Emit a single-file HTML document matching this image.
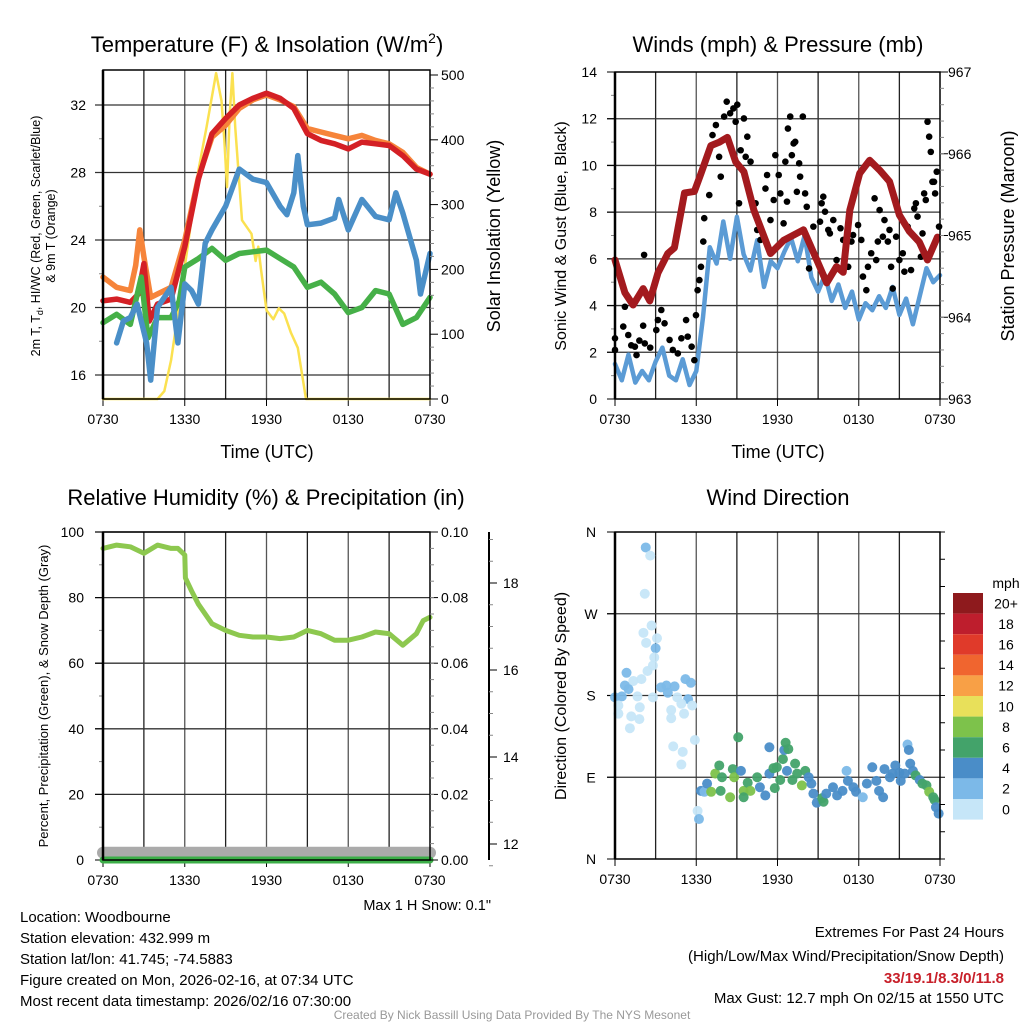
<!DOCTYPE html>
<html><head><meta charset="utf-8"><style>
body{margin:0;background:#fff;}
svg{display:block;font-family:"Liberation Sans",sans-serif;}
</style></head><body>
<svg id="s" width="1024" height="1024" viewBox="0 0 1024 1024" xmlns="http://www.w3.org/2000/svg"></svg>
<script>
// ---------- DATA ----------
const hourLabels=["0730","1330","1930","0130","0730"];
// Panel 1: temperatures (F)
const tRedH=[0,1,2,2.6,3,3.4,4,5,6,7,8,9,10,11,12,13,14,15,16,17,18,19,20,21,22,23,24];
const tRed=[20.4,20.5,20.3,20.8,22.6,19.2,20.2,20.5,23.6,27.6,30.3,31.2,32.0,32.4,32.7,32.4,31.8,30.3,29.9,29.7,29.4,29.8,29.7,29.6,29.0,28.2,27.9];
const tOrangeH=[0,1,2,2.4,2.7,3,3.5,4,5,6,7,8,9,10,11,12,13,14,15,16,17,18,19,20,21,22,23,24];
const tOrange=[21.8,21.2,21.0,22.5,24.6,23.0,20.6,20.8,21.2,24.0,27.7,30.1,30.8,31.8,32.3,32.6,32.3,31.9,30.6,30.4,30.2,30.0,30.2,29.9,29.7,29.2,28.3,27.9];
const tGreenH=[0,1,2,2.8,3.3,4,5,5.6,6,7,8,9,10,11,12,13,14,15,16,17,18,19,20,21,22,23,24];
const tGreen=[19.1,19.6,19.0,21.8,18.2,19.4,19.4,20.4,22.4,22.9,23.5,22.8,23.2,23.3,23.4,22.9,22.4,21.2,21.5,20.8,19.7,20.0,21.0,20.8,19.0,19.4,20.6];
const tBlueH=[1,1.5,2,2.5,3.2,3.5,4,5,5.5,6,6.5,7,7.5,8,9,10,11,12,13,13.5,14,14.3,14.7,15,16,17,17.3,18,19,20,21,21.5,22,23,23.3,24];
const tBlue=[17.9,19.2,19.4,20.2,17.9,15.7,20.0,21.2,17.9,21.4,21.0,20.2,23.8,24.6,26.0,28.2,27.6,27.4,26.0,25.5,26.8,29.0,26.0,24.9,25.0,25.3,26.4,24.6,26.4,25.4,25.2,26.8,25.6,22.8,20.8,23.2];
const insolH=[0,4.0,4.5,5.0,6.0,7.0,7.6,8.3,8.7,8.9,9.1,9.3,9.5,9.7,10.2,10.9,11.2,11.4,11.6,12.0,12.5,12.9,13.3,13.8,14.3,14.9,24];
const insol=[0,0,12,60,204,353,420,503,460,400,327,440,503,420,276,255,213,235,200,137,123,140,132,102,79,0,0];
// Panel 2: wind (mph) & pressure (mb)
const windH=[0,0.5,1,1.5,2,2.5,3,3.5,4,4.5,5,5.5,6,6.5,7,7.5,8,8.5,9,9.5,10,10.5,11,11.5,12,12.5,13,13.5,14,14.5,15,15.5,16,16.5,17,17.5,18,18.5,19,19.5,20,20.5,21,21.5,22,22.5,23,23.5,24];
const wind=[1.5,0.8,1.9,0.7,1.2,0.8,1.6,2.2,1.0,0.8,1.7,0.6,1.2,3.5,6.5,5.8,7.6,6.0,7.8,6.2,5.5,6.8,4.8,5.9,5.6,6.3,6.9,5.9,7.0,5.2,4.6,5.3,4.2,4.9,3.9,4.6,3.4,4.1,3.8,4.4,3.9,4.8,3.6,4.3,3.2,4.4,5.6,5.0,5.3];
const gustH=[0,0,0.61,0.73,0.98,1.2,1.47,1.59,1.8,2.08,2.15,2.2,2.6,3.05,3.17,3.42,3.66,4.03,4.27,4.64,4.9,5.25,5.37,5.66,5.86,5.98,6.1,6.23,6.35,6.52,6.59,6.96,7.2,7.45,7.69,7.81,8.06,8.25,8.5,8.74,8.91,9.03,9.28,9.16,9.52,9.65,9.77,10.01,10.38,10.5,10.74,11.11,11.23,11.48,11.72,11.84,12.09,12.21,12.45,12.58,12.7,12.77,12.94,13.06,13.19,13.31,13.43,13.6,13.67,13.87,14.04,14.16,14.33,14.65,15.14,15.26,15.38,15.51,15.75,15.87,16.12,16.36,16.65,16.85,17.22,17.46,17.58,17.95,18.19,18.31,18.56,18.68,18.92,19.17,19.29,19.41,19.54,19.78,19.9,20.15,20.27,20.39,20.51,20.76,21.0,21.25,21.37,21.61,21.86,22.1,22.22,22.34,22.59,22.71,22.83,22.95,23.08,23.2,23.32,23.44,23.56,23.64,23.76,23.93];
const gust=[2.6,2.1,3.1,3.95,2.74,2.3,2.24,1.88,2.5,3.14,6.17,2.38,2.2,2.95,3.38,3.81,3.24,2.53,2.1,1.95,2.6,3.38,2.67,2.24,1.66,3.59,4.66,5.09,5.66,6.74,7.74,8.73,11.3,11.73,10.37,9.52,12.09,12.73,12.23,12.44,11.87,12.6,10.65,8.38,12.01,10.37,11.23,10.16,8.38,7.24,6.81,9.01,9.59,7.66,8.52,10.44,9.59,8.8,7.52,10.16,8.45,11.58,12.09,10.44,10.94,11.01,8.87,10.09,9.52,12.09,8.8,8.23,5.59,7.38,7.59,8.38,8.66,8.02,7.24,7.09,7.66,5.95,7.31,6.81,5.66,6.74,7.02,7.45,6.81,5.24,4.66,5.66,6.24,8.59,5.95,6.74,8.09,6.95,7.66,6.74,7.24,5.66,4.73,6.95,5.95,6.24,5.45,7.38,5.52,8.16,8.38,7.81,6.09,7.09,8.8,8.52,11.87,11.23,10.58,9.3,9.3,8.8,9.73,7.38];
const presH=[0,0.73,1.34,2.08,2.57,3.17,3.9,4.39,5.13,5.86,6.35,7.08,7.69,8.3,8.91,9.52,10.26,11.48,12.45,13.92,14.9,15.63,16.36,16.85,17.34,18.07,18.8,19.54,20.27,21.0,21.74,22.47,23.08,23.81];
const pres=[964.70,964.30,964.15,964.35,964.20,964.54,964.78,964.85,965.52,965.54,965.76,966.10,966.14,966.20,965.90,965.78,965.31,964.78,964.94,965.07,964.70,964.42,964.62,964.55,965.31,965.76,965.92,965.80,965.66,965.25,965.05,964.92,964.70,964.98];
// Panel 3: RH (%), precip (in), snow depth
const rhH=[0,1,2,3,4,5,5.5,6,6.05,6.5,7,8,9,10,11,12,13,14,15,16,17,18,19,20,21,22,23,23.5,24];
const rh=[95,96,95.5,93.5,96,95,95,93,86,82,78,72,70,68.5,68,68,67.5,68,70,69,67,67,68,69.5,69,65.5,69,73,74];
const precipH=[0,24];
const precip=[0,0];
const snowH=[0,24];
const snow=[11.8,11.8];
// Panel 4: wind direction (deg) colored by speed (mph)
const dirH=[2.27,2.6,2.2,2.7,2.1,3.1,2.3,3.0,2.9,2.8,0.85,2.4,1.95,1.35,0.73,1.0,0,0.5,1.66,0.25,0.25,1.2,1.8,1.1,1.83,2.8,3.4,3.8,4.4,3.9,4.6,5.4,5.2,5.6,5.7,5.1,4.15,4.15,4.9,5.9,4.3,5.0,4.9,6.1,6.2,6.35,6.6,6.8,7.1,7.4,7.7,7.9,7.8,8.5,8.7,8.8,9.1,9.3,9.5,9.8,10.0,9.5,10.5,10.7,11.1,11.4,11.4,11.7,11.8,11.95,12.2,12.4,12.5,12.6,12.8,12.7,13.1,13.3,13.45,13.8,14.05,14.3,14.5,14.65,14.9,15.4,15.3,15.6,16.1,16.4,16.8,17.1,17.2,17.6,17.8,18.3,18.6,19.0,19.3,19.5,19.8,19.9,20.3,20.5,20.7,21.0,21.1,21.4,21.6,21.7,21.8,22.0,22.2,22.5,22.7,23.0,23.2,23.5,23.6,23.7,23.9];
const dirDeg=[343,334,292,257,249,243,238,232,222,213,205,207,198,196,191,187,178,179,179,169,160,157,154,144,167,178,189,191,190,183,178,176,198,194,169,160,164,155,171,131,124,118,104,53,44,75,74,83,74,94,103,90,75,68,99,90,134,97,75,84,75,68,90,79,70,94,123,100,78,101,87,110,120,128,121,97,87,105,94,81,97,90,83,72,62,63,67,72,79,70,75,97,86,79,74,68,83,101,86,75,68,99,90,94,103,95,86,94,126,120,105,97,92,87,83,81,74,68,65,57,50];
const dirSpd=[3,1,1,1,1,1,1,3,1,1,3,1,1,1,3,3,3,3,1,1,1,1,1,1,1,1,3,3,3,3,1,3,3,3,1,1,1,1,1,1,1,1,1,1,3,5,3,5,9,9,7,7,7,9,7,9,7,5,9,7,9,7,7,5,5,5,5,7,7,7,7,7,5,7,7,5,7,7,7,9,7,5,5,5,5,7,7,5,5,5,5,3,5,5,5,3,5,5,5,5,5,5,5,5,5,5,5,5,3,5,5,5,7,5,7,7,9,7,7,5,5];
const cbLabels=["20+","18","16","14","12","10","8","6","4","2","0"];
const cbColors=["#8e1a1d","#be1e2d","#e03a2a","#f0652f","#f8a046","#e8e05a","#7dc24b","#43a36a","#4a8dc8","#7cb9e8","#c6e6f8"];

// ---------- HELPERS ----------
const NS="http://www.w3.org/2000/svg";
const svg=document.getElementById('s');
function mk(tag,attrs,parent){const e=document.createElementNS(NS,tag);for(const k in attrs)e.setAttribute(k,attrs[k]);(parent||svg).appendChild(e);return e;}
function txt(x,y,s,size,anchor,extra){const e=mk('text',Object.assign({x:x,y:y,'font-size':size,'text-anchor':anchor||'middle',fill:'#000'},extra||{}));e.textContent=s;return e;}
function linear(d0,d1,r0,r1){return v=>r0+(v-d0)*(r1-r0)/(d1-d0);}
function pathD(xs,ys,fx,fy){return xs.map((h,i)=>(i?'L':'M')+fx(h).toFixed(1)+','+fy(ys[i]).toFixed(1)).join('');}
function frame(x0,x1,y0,y1,name){
  for(let k=1;k<8;k++){const gx=x0+(x1-x0)*k/8;const l=mk('line',{x1:gx,x2:gx,y1:y0,y2:y1,stroke:k%2?'#222':'#555','stroke-width':1.3});
  
  }
  for(let k=0;k<5;k++){const gx=x0+(x1-x0)*k/4;const t=txt(gx,0,hourLabels[k],14);t.setAttribute('y',y1+25);
  
  
  const tk=mk('line',{x1:gx,x2:gx,y1:y1,y2:y1+7,stroke:'#000','stroke-width':1});
  
  }
}
function border(x0,x1,y0,y1,name){const r=mk('rect',{x:x0,y:y0,width:x1-x0,height:y1-y0,fill:'none',stroke:'#000','stroke-width':1.5});


mk('line',{x1:x0,x2:x0,y1:y0,y2:y1,stroke:'#000','stroke-width':2.5});}
function hgrid(x0,x1,y,name){const l=mk('line',{x1:x0-8,x2:x1,y1:y,y2:y,stroke:'#333','stroke-width':1.3});

}
function line(xs,ys,fx,fy,color,w,name){const p=mk('path',{d:pathD(xs,ys,fx,fy),fill:'none',stroke:color,'stroke-width':w,'stroke-linejoin':'round','stroke-linecap':'round'});

return p;}
function rightTicks(x,vals,fy,minorVals,fmt,name,labX){
  vals.forEach(v=>{mk('line',{x1:x,x2:x+8,y1:fy(v),y2:fy(v),stroke:'#000'});const t=txt(labX,fy(v)+5,fmt(v),14,'start');
  
  });
  minorVals.forEach(v=>mk('line',{x1:x,x2:x+4,y1:fy(v),y2:fy(v),stroke:'#888'}));
}
function vtitle(x,y,s,size,name){const t=txt(x,y,s,size,'middle',{transform:'rotate(-90 '+x+' '+y+')'});

return t;}

// ---------- PANEL 1 ----------
(function(){
const x0=103,x1=430,y0=70,y1=399;
const fx=linear(0,24,x0,x1), fy=linear(16,32,375,105), fi=linear(0,500,399,75);
frame(x0,x1,y0,y1,'temp');
[16,20,24,28,32].forEach(v=>{hgrid(x0,x1,fy(v),'temp');const t=txt(86,fy(v)+5,String(v),14,'end');

});
[18,22,26,30].forEach(v=>mk('line',{x1:x0-4,x2:x0,y1:fy(v),y2:fy(v),stroke:'#888'}));
line(insolH,insol,fx,fi,'#fbe150',2.5,'insolation-line');
line(tOrangeH,tOrange,fx,fy,'#f6843a',5.5,'9m-temp-line');
line(tRedH,tRed,fx,fy,'#d42025',5.5,'2m-temp-line');
line(tGreenH,tGreen,fx,fy,'#46b048',5.5,'dewpoint-line');
line(tBlueH,tBlue,fx,fy,'#4a8fc8',5.5,'windchill-line');
border(x0,x1,y0,y1,'temp');
rightTicks(x1,[0,100,200,300,400,500],fi,[20,40,60,80,120,140,160,180,220,240,260,280,320,340,360,380,420,440,460,480],String,'insolation',441);
const tt=txt(267,52,'',22);tt.innerHTML='Temperature (F) &amp; Insolation (W/m<tspan font-size="14" dy="-9">2</tspan><tspan dy="9">)</tspan>';


const xt=txt(267,458,'Time (UTC)',18);


vtitle(500,236,'Solar Insolation (Yellow)',18,'insolation-axis-title');
const lt=txt(40,236,'',12.5,'middle',{transform:'rotate(-90 40 236)'});
lt.innerHTML='2m T, T<tspan font-size="9" dy="3">d</tspan><tspan dy="-3">, HI/WC (Red, Green, Scarlet/Blue)</tspan>';


vtitle(55,236,'& 9m T (Orange)',12.5,'temp-y-axis-title-line2');
})();

// ---------- PANEL 2 ----------
(function(){
const x0=615,x1=940,y0=72,y1=399;
const fx=linear(0,24,x0,x1), fy=linear(0,14,399,72), fp=linear(963,967,399,72);
frame(x0,x1,y0,y1,'wind');
[0,2,4,6,8,10,12,14].forEach(v=>{if(v>0&&v<14)hgrid(x0,x1,fy(v),'wind');mk('line',{x1:x0-8,x2:x0,y1:fy(v),y2:fy(v),stroke:'#000'});const t=txt(597,fy(v)+5,String(v),14,'end');

});
[1,3,5,7,9,11,13].forEach(v=>mk('line',{x1:x0-4,x2:x0,y1:fy(v),y2:fy(v),stroke:'#888'}));
line(windH,wind,fx,fy,'#5b9bd5',4.5,'sonic-wind-line');
gustH.forEach((h,i)=>{const c=mk('circle',{cx:fx(h),cy:fy(gust[i]),r:3.3,fill:'#000'});

});
line(presH,pres,fx,fp,'#a31a1e',7,'pressure-line');
border(x0,x1,y0,y1,'wind');
const mn=[];for(let v=963.2;v<967;v+=0.2)mn.push(v);
rightTicks(x1,[963,964,965,966,967],fp,mn,String,'pressure',948);
const tt=txt(778,52,'Winds (mph) & Pressure (mb)',22);


const xt=txt(778,458,'Time (UTC)',18);


vtitle(566,236,'Sonic Wind & Gust (Blue, Black)',16,'wind-y-axis-title');
vtitle(1014,236,'Station Pressure (Maroon)',18,'pressure-axis-title');
})();

// ---------- PANEL 3 ----------
(function(){
const x0=103,x1=430,y0=532,y1=860;
const fx=linear(0,24,x0,x1), fy=linear(0,100,860,532), fs=linear(12,18,844,583);
frame(x0,x1,y0,y1,'rh');
[0,20,40,60,80,100].forEach(v=>{if(v>0)hgrid(x0,x1,fy(v),'rh');mk('line',{x1:x0-8,x2:x0,y1:fy(v),y2:fy(v),stroke:'#000'});const t=txt(84,fy(v)+5,String(v),14,'end');

});
[10,30,50,70,90].forEach(v=>mk('line',{x1:x0-4,x2:x0,y1:fy(v),y2:fy(v),stroke:'#888'}));
line(snowH,snow,fx,fs,'#aaaaaa',12,'snow-depth-line');
line(precipH,precip.map(v=>v*1000),fx,fy,'#3cae48',7,'precipitation-line');
line(rhH,rh,fx,fy,'#8dc84f',5,'rh-line');
border(x0,x1,y0,y1,'rh');
const mn=[];for(let v=0.005;v<0.1;v+=0.005)mn.push(v*1000);
rightTicks(x1,[0,20,40,60,80,100],fy,mn,v=>(v/1000).toFixed(2),'precip',441);
const ax=mk('line',{x1:489,x2:489,y1:532,y2:860,stroke:'#000','stroke-width':2});


[12,14,16,18].forEach(v=>{mk('line',{x1:489,x2:497,y1:fs(v),y2:fs(v),stroke:'#000'});const t=txt(503,fs(v)+5,String(v),14,'start');

});
for(let v=11.5;v<19.5;v+=0.5){if(v%2)mk('line',{x1:489,x2:493,y1:fs(v),y2:fs(v),stroke:'#888'});}
const tt=txt(266,505,'Relative Humidity (%) & Precipitation (in)',22);


vtitle(48,696,'Percent, Precipitation (Green), & Snow Depth (Gray)',13,'rh-y-axis-title');
const sn=txt(491,910,'Max 1 H Snow: 0.1"',14.5,'end');


})();

// ---------- PANEL 4 ----------
(function(){
const x0=615,x1=940,y0=532,y1=859;
const fx=linear(0,24,x0,x1), fy=linear(0,360,859,532);
frame(x0,x1,y0,y1,'dir');
const dl=['N','E','S','W','N'];
[0,90,180,270,360].forEach((v,i)=>{if(v>0&&v<360)hgrid(x0,x1,fy(v),'dir');mk('line',{x1:x0-8,x2:x0,y1:fy(v),y2:fy(v),stroke:'#000'});const t=txt(591,fy(v)+5,dl[i],14,'middle');

});
dirH.forEach((h,i)=>{const idx=Math.max(0,Math.min(10,10-Math.floor(dirSpd[i]/2)));const c=mk('circle',{cx:fx(h),cy:fy(dirDeg[i]),r:5,fill:cbColors[idx],'fill-opacity':0.95});

});
border(x0,x1,y0,y1,'dir');
for(let v=0;v<=360;v+=30)mk('line',{x1:x1,x2:x1+5,y1:fy(v),y2:fy(v),stroke:'#000'});
const tt=txt(778,505,'Wind Direction',22);


vtitle(566,696,'Direction (Colored By Speed)',16,'dir-y-axis-title');
const mu=txt(1006,588,'mph',14);


const bh=20.6;
cbColors.forEach((c,i)=>{const r=mk('rect',{x:953,y:593+i*bh,width:30,height:bh,fill:c});


const t=txt(1006,593+i*bh+bh/2+5,cbLabels[i],14);

});
})();

// ---------- FOOTER TEXT ----------
const leftLines=['Location: Woodbourne','Station elevation: 432.999 m','Station lat/lon: 41.745; -74.5883','Figure created on Mon, 2026-02-16, at 07:34 UTC','Most recent data timestamp: 2026/02/16 07:30:00'];
leftLines.forEach((s,i)=>{const t=txt(20,922+i*21,s,15,'start');

});
const r1=txt(1004,937,'Extremes For Past 24 Hours',15,'end');


const r2=txt(1004,961,'(High/Low/Max Wind/Precipitation/Snow Depth)',15,'end');


const r3=txt(1004,983,'33/19.1/8.3/0/11.8',15,'end',{fill:'#c8202a','font-weight':'bold'});


const r4=txt(1004,1003,'Max Gust: 12.7 mph On 02/15 at 1550 UTC',15,'end');


const cr=txt(512,1019,'Created By Nick Bassill Using Data Provided By The NYS Mesonet',12,'middle',{fill:'#999'});


</script>
</body></html>
